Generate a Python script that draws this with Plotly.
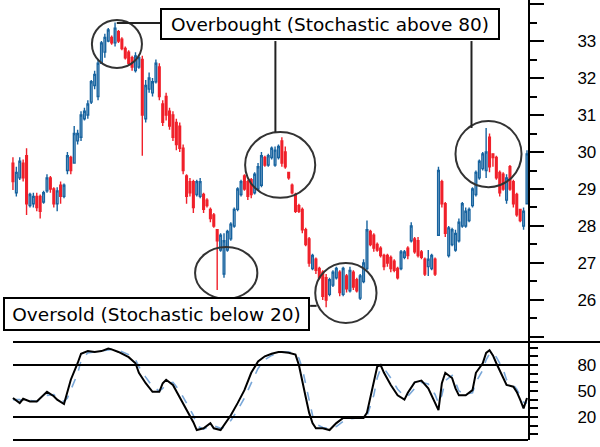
import plotly.graph_objects as go

# ---------------- data ----------------
opens = [
    29.7, 28.9, 29.3, 29.7, 29.9, 28.55, 28.6, 28.8, 28.8, 28.65,
    28.95, 29.3, 29.0, 28.6, 29.1, 28.8, 29.5, 29.85, 29.7, 30.3,
    30.4, 30.9, 31.0, 31.35, 31.8, 31.5, 32.4, 32.7, 33.0, 33.1,
    32.95, 33.25, 33.05, 32.8, 32.7, 32.55, 32.2, 32.3, 32.5, 30.9,
    31.7, 31.6, 31.9, 32.3, 31.3, 31.5, 31.1, 31.0, 30.8, 30.7,
    30.1, 29.35, 29.2, 29.2, 28.85, 28.8, 28.85, 28.7, 28.45, 28.3,
    27.9, 27.35, 26.7, 27.35, 27.65, 28.0, 28.45, 28.85, 29.35, 29.2,
    29.25, 28.9, 29.0, 29.1, 29.85, 29.65, 29.85, 29.65, 29.85, 30.3,
    30.0, 29.45, 29.1, 28.85, 28.55, 28.45, 27.9, 27.65, 26.85, 27.1,
    26.85, 26.75, 26.6, 26.15, 26.4, 26.6, 26.75, 26.15, 26.65, 26.25,
    26.75, 26.55, 26.05, 26.5, 26.85, 27.85, 27.75, 27.5, 27.4, 27.2,
    27.2, 27.15, 27.05, 26.85, 26.85, 27.15, 27.4, 27.6, 27.65, 27.6,
    27.3, 27.1, 26.9, 26.85, 27.1, 27.75, 29.2, 28.6, 27.2, 27.5,
    27.35, 27.6, 28.0, 28.0, 28.15, 28.55, 28.85, 29.3, 29.55, 29.5,
    30.4, 29.95, 29.85, 29.45, 29.4, 28.7, 29.6, 29.2, 28.85, 28.45,
    28.0, 28.6,
]
highs = [
    29.86, 29.6, 29.86, 29.8, 30.1, 28.9, 28.9, 28.9, 28.85, 28.95,
    29.4, 29.35, 29.05, 29.05, 29.2, 29.15, 30.0, 29.9, 30.7, 30.6,
    31.1, 31.2, 31.4, 31.95, 32.2, 32.5, 33.0, 33.2, 33.35, 33.15,
    33.5, 33.3, 33.1, 32.85, 32.75, 32.6, 32.7, 32.6, 32.6, 31.95,
    32.15, 32.0, 32.5, 32.4, 31.4, 31.6, 31.2, 31.1, 30.9, 30.8,
    30.2, 29.4, 29.3, 29.25, 29.25, 29.3, 28.9, 28.75, 28.5, 28.35,
    27.9, 27.8, 27.8, 27.9, 28.1, 28.5, 29.05, 29.25, 29.4, 29.25,
    29.3, 29.45, 29.7, 30.0, 29.9, 29.95, 30.15, 30.15, 30.2, 30.4,
    30.15, 29.45, 29.15, 28.9, 28.6, 28.5, 27.95, 27.7, 27.25, 27.15,
    26.9, 26.8, 26.7, 26.6, 26.8, 26.9, 26.8, 26.9, 26.7, 26.9,
    26.8, 26.6, 26.7, 27.1, 28.15, 27.9, 27.8, 27.55, 27.45, 27.25,
    27.25, 27.2, 27.1, 26.9, 27.35, 27.35, 27.45, 28.1, 27.7, 27.7,
    27.35, 27.15, 27.35, 27.25, 27.15, 29.6, 29.25, 28.65, 28.0, 27.95,
    27.9, 28.2, 28.65, 28.5, 28.5, 29.05, 29.5, 29.8, 30.0, 30.65,
    30.5, 29.95, 29.9, 29.5, 29.45, 29.4, 29.65, 29.25, 28.9, 28.45,
    28.5, 30.05,
]
lows = [
    28.97, 28.8, 29.24, 29.2, 28.3, 28.5, 28.5, 28.4, 28.2, 28.6,
    28.9, 28.9, 28.5, 28.4, 28.6, 28.75, 29.4, 29.4, 29.7, 30.2,
    30.3, 30.85, 30.9, 31.3, 31.7, 31.4, 32.4, 32.55, 32.97, 32.9,
    32.85, 32.95, 32.75, 32.5, 32.35, 32.2, 32.15, 32.25, 29.9, 30.8,
    31.6, 31.5, 31.85, 31.4, 30.7, 30.85, 30.6, 30.3, 30.05, 30.0,
    29.4, 28.6, 28.8, 28.35, 28.8, 28.75, 28.35, 28.5, 28.1, 27.95,
    26.27, 27.3, 26.6, 27.3, 27.6, 27.95, 28.4, 28.8, 28.95, 28.7,
    28.75, 28.85, 28.95, 29.05, 29.6, 29.6, 29.8, 29.6, 29.8, 29.6,
    29.55, 29.25, 28.85, 28.35, 28.35, 27.8, 27.45, 26.9, 26.8, 26.7,
    26.55, 26.0, 25.8, 26.1, 26.35, 26.55, 26.1, 26.1, 26.2, 26.2,
    26.27, 26.2, 26.0, 26.45, 26.8, 27.45, 27.3, 27.3, 27.15, 26.8,
    26.9, 26.75, 26.75, 26.55, 26.8, 27.1, 27.1, 27.55, 27.25, 27.15,
    27.1, 26.65, 26.65, 26.8, 26.65, 27.75, 28.5, 27.7, 27.15, 27.45,
    27.3, 27.55, 27.95, 27.95, 28.1, 28.5, 28.8, 29.25, 29.5, 29.3,
    29.45, 29.6, 29.25, 28.8, 28.95, 28.6, 28.95, 28.5, 28.25, 28.1,
    27.9, 28.6,
]
closes = [
    29.2, 29.45, 29.75, 29.3, 28.6, 28.85, 28.8, 28.5, 28.4, 28.9,
    29.3, 29.0, 28.6, 28.95, 28.8, 29.1, 29.9, 29.5, 30.5, 30.5,
    31.0, 31.1, 31.3, 31.9, 32.1, 32.4, 32.95, 33.1, 33.3, 32.95,
    33.35, 33.0, 32.8, 32.55, 32.4, 32.3, 32.6, 32.55, 31.0, 31.8,
    32.0, 31.9, 32.4, 31.5, 30.8, 31.0, 30.7, 30.4, 30.2, 30.1,
    29.5, 28.8, 28.9, 28.5, 29.2, 29.2, 28.45, 28.55, 28.2, 28.0,
    27.6, 27.75, 27.6, 27.85, 28.05, 28.45, 29.0, 29.2, 29.0, 28.8,
    28.85, 29.4, 29.6, 29.9, 29.65, 29.9, 30.1, 30.05, 30.15, 29.7,
    29.6, 29.3, 28.9, 28.4, 28.4, 27.9, 27.5, 27.0, 27.2, 26.8,
    26.6, 26.1, 26.0, 26.55, 26.75, 26.85, 26.2, 26.85, 26.3, 26.8,
    26.35, 26.25, 26.65, 27.0, 27.9, 27.5, 27.4, 27.35, 27.2, 26.9,
    27.0, 26.85, 26.8, 26.6, 27.3, 27.3, 27.2, 28.0, 27.3, 27.2,
    27.15, 26.7, 27.1, 27.2, 26.7, 29.5, 28.6, 27.8, 27.95, 27.9,
    27.8, 28.1, 28.6, 28.4, 28.45, 29.0, 29.45, 29.75, 29.95, 30.0,
    29.6, 29.85, 29.3, 28.9, 29.0, 29.3, 29.0, 28.6, 28.3, 28.15,
    28.4, 29.95,
]
days = list(range(len(opens)))

stoch_days = [
    0, 2, 3, 5, 7, 8, 10, 12, 13, 15,
    16, 17, 19, 20, 22, 24, 26, 28, 29, 31,
    34, 36, 37, 39, 41, 43, 44, 45, 47, 49,
    51, 53, 54, 56, 58, 59, 61, 62, 64, 66,
    68, 70, 72, 74, 76, 78, 79, 81, 83, 84,
    85, 86, 87, 88, 89, 91, 93, 95, 97, 99,
    101, 103, 104, 106, 107, 108, 109, 111, 113, 115,
    116, 118, 120, 122, 124, 125, 126, 127, 129, 130,
    131, 133, 135, 136, 138, 139, 140, 141, 142, 144,
    145, 147, 148, 149, 150, 151,
]
pct_k = [
    42, 36, 41, 38, 38, 42, 49, 44, 40, 35,
    49, 63, 82, 93, 96, 95, 96, 99, 98, 95,
    89, 82, 71, 59, 49, 49, 59, 63, 57, 43,
    28, 14, 5, 7, 13, 7, 5, 11, 22, 36,
    51, 71, 84, 90, 93, 95, 95, 94, 92, 80,
    63, 43, 25, 13, 7, 7, 5, 13, 19, 19,
    19, 19, 25, 63, 78, 80, 71, 57, 45, 40,
    48, 60, 62, 53, 36, 28, 59, 71, 65, 53,
    45, 45, 51, 71, 82, 94, 97, 91, 82, 66,
    57, 55, 49, 40, 30, 42,
]
pct_d = [
    40, 40, 38, 39, 38, 40, 45, 46, 42, 38,
    42, 52, 70, 85, 94, 95, 96, 97, 98, 97,
    92, 86, 78, 66, 55, 50, 53, 58, 60, 50,
    36, 22, 10, 6, 10, 10, 7, 8, 16, 28,
    42, 60, 76, 86, 91, 94, 95, 95, 93, 88,
    76, 58, 38, 22, 12, 8, 7, 9, 15, 18,
    19, 19, 21, 45, 65, 76, 76, 65, 52, 44,
    44, 53, 60, 58, 46, 36, 45, 62, 68, 60,
    50, 46, 48, 60, 74, 86, 93, 94, 89, 75,
    63, 57, 52, 45, 37, 36,
]
levels = [80, 20]
price_ticks = [25, 26, 27, 28, 29, 30, 31, 32, 33, 34]
price_labels = ["", "26", "27", "28", "29", "30", "31", "32", "33", ""]
stoch_ticks = [0, 10, 20, 30, 40, 50, 60, 70, 80, 90, 100]
stoch_labels = ["", "", "20", "", "", "50", "", "", "80", "", ""]

# highlight regions: (day0, day1, price_low, price_high)
highlights = [
    (23.2, 37.9, 32.27, 33.57),
    (68.2, 88.8, 28.76, 30.54),
    (130.0, 149.4, 29.05, 30.84),
    (53.5, 71.8, 26.03, 27.43),
    (88.8, 106.8, 25.38, 27.00),
]

# ---------------- styling ----------------
W, H = 600, 447
BLUE = "#17639f"
RED = "#f0202a"
FONT = "Liberation Sans, Arial, sans-serif"


def px(x):
    return x / W


def py(y):
    return 1 - y / H


fig = go.Figure()
fig.add_trace(go.Candlestick(
    x=days, open=opens, high=highs, low=lows, close=closes,
    increasing=dict(line=dict(color=BLUE, width=1.4), fillcolor="white"),
    decreasing=dict(line=dict(color=RED, width=1.4), fillcolor=RED),
    whiskerwidth=0, xaxis="x", yaxis="y", showlegend=False, hoverinfo="skip",
))
fig.add_trace(go.Scatter(
    x=stoch_days, y=pct_d, mode="lines", xaxis="x2", yaxis="y2",
    line=dict(color="#79a7d8", width=1.6, dash="dash"), showlegend=False,
))
fig.add_trace(go.Scatter(
    x=stoch_days, y=pct_k, mode="lines", xaxis="x2", yaxis="y2",
    line=dict(color="black", width=2), showlegend=False,
))

xr = [-3.8, 151.3]
shapes = []
for lv in levels:
    shapes.append(dict(type="line", xref="paper", yref="y2", x0=px(13), x1=px(528),
                       y0=lv, y1=lv, line=dict(color="black", width=2)))
shapes.append(dict(type="line", xref="paper", yref="paper", x0=px(13), x1=1,
                   y0=py(342), y1=py(342), line=dict(color="black", width=2)))
shapes.append(dict(type="line", xref="paper", yref="paper", x0=px(13), x1=px(528),
                   y0=py(440), y1=py(440), line=dict(color="black", width=2)))
for d0, d1, p0, p1 in highlights:
    shapes.append(dict(type="circle", xref="x", yref="y", x0=d0, x1=d1, y0=p0, y1=p1,
                       line=dict(color="#333333", width=2)))

# connectors from label boxes to the highlight circles
conn = dict(color="#222222", width=2)
shapes.append(dict(type="line", xref="x", yref="y", x0=30.5, x1=43.2, y0=33.49, y1=33.49, line=conn))
shapes.append(dict(type="line", xref="x", yref="y", x0=77.1, x1=77.1, y0=33.0, y1=30.54, line=conn))
shapes.append(dict(type="line", xref="x", yref="y", x0=134.7, x1=134.7, y0=33.0, y1=30.65, line=conn))
shapes.append(dict(type="line", xref="x", yref="y", x0=87.3, x1=89.2, y0=25.84, y1=25.84, line=conn))

annotations = [
    dict(text="Overbought (Stochastic above 80)", xref="paper", yref="paper",
         x=px(160), y=py(8), xanchor="left", yanchor="top", showarrow=False,
         width=332, height=24, borderpad=2, borderwidth=2, bordercolor="black",
         bgcolor="white", font=dict(family="DejaVu Sans", size=18.5, color="black")),
    dict(text="Oversold (Stochastic below 20)", xref="paper", yref="paper",
         x=px(3), y=py(297), xanchor="left", yanchor="top", showarrow=False,
         width=299, height=26, borderpad=2, borderwidth=2, bordercolor="black",
         bgcolor="white", font=dict(family="DejaVu Sans", size=18.5, color="black")),
]

fig.update_layout(
    width=W, height=H, margin=dict(l=0, r=0, t=0, b=0),
    paper_bgcolor="white", plot_bgcolor="white", showlegend=False,
    font=dict(family=FONT, size=17, color="black"),
    xaxis=dict(domain=[0, px(528)], range=xr, visible=False, anchor="y",
               rangeslider=dict(visible=False), fixedrange=True),
    yaxis=dict(domain=[py(341), 1], range=[24.89, 34.11], side="right", anchor="x",
               showline=True, linecolor="black", linewidth=2, ticks="outside",
               ticklen=14, tickwidth=2, tickcolor="black", tickvals=price_ticks,
               ticktext=price_labels, showgrid=False, zeroline=False,
               ticklabelstandoff=30, automargin=False,
               minor=dict(dtick=0.5, tick0=25, ticks="outside", ticklen=7,
                          tickwidth=2, tickcolor="black", showgrid=False)),
    xaxis2=dict(domain=[0, px(528)], range=xr, visible=False, anchor="y2"),
    yaxis2=dict(domain=[py(440), py(342)], range=[-6.5, 106.5], side="right", anchor="x2",
                showline=True, linecolor="black", linewidth=2, ticks="outside",
                ticklen=8, tickwidth=2, tickcolor="black", tickvals=stoch_ticks,
                ticktext=stoch_labels, showgrid=False, zeroline=False,
                ticklabelstandoff=36, automargin=False),
    shapes=shapes, annotations=annotations,
)

fig.write_html("out.html", config={"displayModeBar": False},
               post_script="document.body.style.margin='0px';document.body.style.overflow='hidden';")
